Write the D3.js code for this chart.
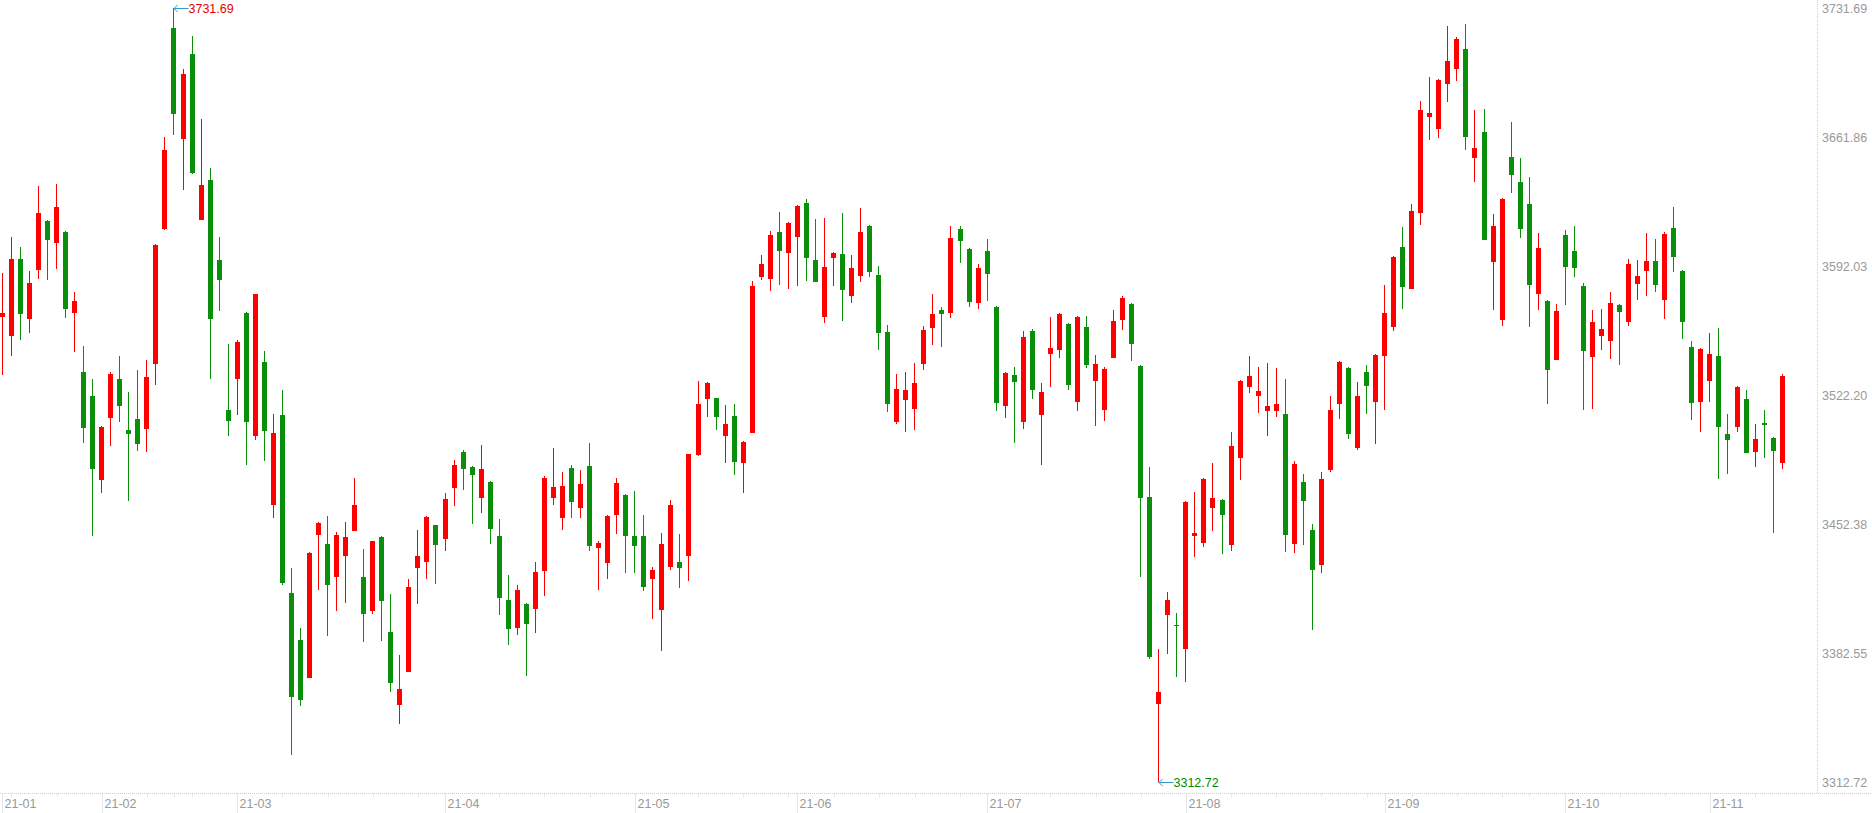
<!DOCTYPE html>
<html>
<head>
<meta charset="utf-8">
<script src="https://cdn.jsdelivr.net/npm/d3@7"></script>
<style>
  html, body { margin: 0; padding: 0; background: #fff; overflow: hidden; }
  svg { display: block; font-family: "Liberation Sans", Arial, sans-serif; }
</style>
</head>
<body>
<svg id="chart" width="1872" height="813"></svg>
<script>
// trading days shown, per month
const tradingDays = [
    ["2021-01", "15 18 19 20 21 22 25 26 27 28 29"],
    ["2021-02", "01 02 03 04 05 08 09 10 18 19 22 23 24 25 26"],
    ["2021-03", "01 02 03 04 05 08 09 10 11 12 15 16 17 18 19 22 23 24 25 26 29 30 31"],
    ["2021-04", "01 02 06 07 08 09 12 13 14 15 16 19 20 21 22 23 26 27 28 29 30"],
    ["2021-05", "06 07 10 11 12 13 14 17 18 19 20 21 24 25 26 27 28 31"],
    ["2021-06", "01 02 03 04 07 08 09 10 11 15 16 17 18 21 22 23 24 25 28 29 30"],
    ["2021-07", "01 02 05 06 07 08 09 12 13 14 15 16 19 20 21 22 23 26 27 28 29 30"],
    ["2021-08", "02 03 04 05 06 09 10 11 12 13 16 17 18 19 20 23 24 25 26 27 30 31"],
    ["2021-09", "01 02 03 06 07 08 09 10 13 14 15 16 17 22 23 24 27 28 29 30"],
    ["2021-10", "08 11 12 13 14 15 18 19 20 21 22 25 26 27 28 29"],
    ["2021-11", "01 02 03 04 05 08 09 10 11"]
];

const openPrices = [
    3564.5, 3554.2, 3595.7, 3563.4, 3589.9, 3616.2, 3604.4, 3610.2, 3566.5, 3534.4,
    3521.7, 3476.3, 3509.7, 3530.8, 3503.1, 3509.1, 3503.9, 3539.1, 3612.1, 3720.7,
    3660.8, 3706.6, 3616.9, 3638.4, 3595.1, 3514.0, 3530.9, 3566.5, 3499.7, 3540.0,
    3462.7, 3511.0, 3415.0, 3389.5, 3369.2, 3446.5, 3441.5, 3423.8, 3435.2, 3448.7,
    3423.6, 3405.2, 3445.3, 3393.9, 3354.6, 3372.4, 3428.7, 3431.9, 3451.7, 3444.4,
    3471.9, 3491.2, 3483.1, 3466.5, 3475.0, 3445.8, 3411.2, 3396.2, 3409.0, 3406.5,
    3427.0, 3466.5, 3455.7, 3482.6, 3461.1, 3483.7, 3439.5, 3431.4, 3457.3, 3468.0,
    3445.8, 3445.8, 3422.7, 3406.0, 3429.2, 3431.7, 3435.2, 3489.6, 3520.1, 3520.4,
    3500.1, 3510.7, 3485.5, 3501.7, 3586.1, 3584.8, 3610.2, 3599.1, 3607.5, 3625.9,
    3595.1, 3564.4, 3596.4, 3598.4, 3575.8, 3586.6, 3613.5, 3587.0, 3556.2, 3507.6,
    3519.6, 3514.7, 3539.0, 3558.5, 3568.1, 3566.6, 3611.9, 3601.1, 3572.0, 3600.0,
    3569.7, 3516.3, 3532.9, 3507.6, 3556.7, 3511.4, 3544.4, 3546.6, 3560.5, 3518.5,
    3558.9, 3529.8, 3514.1, 3542.3, 3562.8, 3571.3, 3537.8, 3466.9, 3355.1, 3403.3,
    3397.6, 3384.8, 3446.0, 3442.2, 3461.1, 3465.3, 3441.1, 3488.0, 3526.6, 3521.7,
    3513.6, 3513.6, 3511.8, 3441.6, 3475.0, 3449.0, 3430.0, 3481.7, 3517.4, 3536.7,
    3493.6, 3534.5, 3518.5, 3543.4, 3559.0, 3602.1, 3579.6, 3620.7, 3672.6, 3666.1,
    3690.5, 3698.6, 3709.2, 3650.5, 3664.3, 3594.2, 3562.5, 3650.8, 3637.3, 3625.4,
    3576.9, 3572.9, 3541.2, 3608.6, 3600.0, 3581.0, 3542.8, 3554.0, 3551.5, 3570.8,
    3561.8, 3582.3, 3589.3, 3594.6, 3573.6, 3612.4, 3589.2, 3548.0, 3518.5, 3529.8,
    3543.2, 3501.2, 3504.9, 3520.1, 3491.4, 3506.9, 3499.0, 3485.5
];

const highPrices = [
    3587.9, 3607.7, 3602.1, 3589.3, 3635.3, 3617.0, 3636.3, 3610.8, 3577.7, 3548.7,
    3530.9, 3505.5, 3534.4, 3543.1, 3523.6, 3535.6, 3541.0, 3603.6, 3661.6, 3731.69,
    3698.5, 3716.2, 3671.4, 3645.0, 3607.7, 3549.7, 3551.8, 3566.8, 3576.9, 3546.0,
    3512.0, 3525.0, 3428.5, 3396.0, 3436.9, 3453.5, 3456.6, 3448.0, 3453.4, 3477.2,
    3438.8, 3443.3, 3445.6, 3414.4, 3381.4, 3422.5, 3449.0, 3456.6, 3452.0, 3469.1,
    3486.9, 3492.3, 3483.4, 3495.0, 3475.3, 3455.0, 3424.7, 3419.3, 3409.3, 3431.7,
    3478.2, 3493.4, 3480.4, 3484.2, 3481.5, 3496.1, 3443.3, 3456.9, 3477.2, 3468.3,
    3470.1, 3457.2, 3429.0, 3447.4, 3465.3, 3446.9, 3490.4, 3529.6, 3528.9, 3520.7,
    3516.7, 3517.2, 3497.2, 3583.7, 3598.0, 3611.0, 3621.1, 3615.4, 3625.0, 3628.1,
    3617.3, 3617.8, 3599.4, 3620.5, 3597.8, 3623.2, 3613.8, 3591.9, 3559.9, 3533.4,
    3534.5, 3539.4, 3559.4, 3576.7, 3569.7, 3613.5, 3613.5, 3601.4, 3592.9, 3606.5,
    3570.0, 3534.3, 3537.2, 3556.7, 3557.8, 3528.6, 3564.3, 3566.4, 3560.8, 3564.8,
    3564.8, 3543.7, 3537.4, 3568.0, 3575.6, 3571.6, 3538.1, 3483.3, 3384.7, 3415.5,
    3404.1, 3464.5, 3469.8, 3476.9, 3485.3, 3465.6, 3502.1, 3530.1, 3543.2, 3537.2,
    3539.4, 3536.7, 3530.7, 3486.4, 3479.3, 3452.3, 3480.4, 3521.5, 3540.2, 3537.0,
    3529.1, 3538.3, 3544.0, 3581.6, 3597.0, 3612.9, 3625.4, 3681.1, 3694.1, 3692.8,
    3721.7, 3715.7, 3722.8, 3676.2, 3676.8, 3620.0, 3628.6, 3669.7, 3650.3, 3640.0,
    3609.7, 3573.2, 3571.3, 3611.3, 3613.5, 3582.7, 3568.1, 3568.6, 3577.8, 3571.1,
    3595.6, 3595.1, 3609.7, 3606.5, 3610.3, 3623.8, 3589.5, 3551.3, 3547.3, 3555.6,
    3558.3, 3512.0, 3527.1, 3524.9, 3506.6, 3514.1, 3499.3, 3533.6
];

const lowPrices = [
    3532.9, 3543.1, 3551.8, 3555.7, 3585.0, 3584.5, 3590.5, 3563.8, 3545.4, 3496.2,
    3446.0, 3469.1, 3494.6, 3507.4, 3464.9, 3491.9, 3491.3, 3527.7, 3611.5, 3662.9,
    3633.2, 3641.5, 3616.5, 3530.9, 3567.7, 3500.0, 3511.3, 3484.2, 3497.7, 3486.6,
    3455.7, 3419.5, 3327.5, 3354.0, 3368.8, 3416.6, 3391.7, 3405.4, 3409.7, 3448.3,
    3388.6, 3403.8, 3389.2, 3361.6, 3344.3, 3372.0, 3409.2, 3422.7, 3420.0, 3437.9,
    3462.2, 3470.9, 3452.5, 3458.4, 3441.7, 3403.2, 3387.0, 3392.4, 3370.0, 3393.5,
    3413.5, 3462.7, 3449.2, 3455.7, 3455.7, 3437.9, 3416.8, 3422.7, 3447.1, 3425.9,
    3425.9, 3416.2, 3401.1, 3383.8, 3427.6, 3417.8, 3421.6, 3489.1, 3510.4, 3503.3,
    3485.5, 3479.0, 3469.2, 3501.4, 3584.5, 3578.5, 3581.6, 3579.4, 3581.0, 3583.9,
    3583.1, 3561.2, 3581.0, 3562.3, 3572.0, 3583.4, 3586.1, 3546.6, 3513.1, 3506.6,
    3502.3, 3503.3, 3535.8, 3549.3, 3548.2, 3563.9, 3593.7, 3569.9, 3568.8, 3573.1,
    3513.6, 3509.8, 3496.3, 3503.9, 3520.1, 3484.4, 3526.6, 3542.3, 3525.0, 3513.6,
    3536.9, 3505.5, 3508.2, 3542.0, 3557.4, 3540.6, 3423.8, 3379.4, 3312.72, 3382.1,
    3369.7, 3367.0, 3434.6, 3440.0, 3448.7, 3436.2, 3437.9, 3476.1, 3523.3, 3512.3,
    3500.1, 3510.4, 3437.3, 3436.8, 3441.0, 3395.0, 3426.0, 3480.6, 3509.3, 3498.4,
    3492.5, 3512.0, 3495.7, 3514.1, 3556.9, 3568.8, 3579.3, 3614.2, 3660.2, 3661.3,
    3680.7, 3692.1, 3654.8, 3637.5, 3605.8, 3568.2, 3559.6, 3631.5, 3607.2, 3559.0,
    3568.2, 3517.4, 3540.9, 3570.9, 3586.1, 3514.1, 3514.7, 3546.6, 3541.7, 3538.5,
    3559.6, 3573.6, 3575.8, 3578.0, 3563.4, 3588.8, 3552.5, 3508.7, 3502.2, 3518.5,
    3476.8, 3479.5, 3502.2, 3490.6, 3483.3, 3488.2, 3447.6, 3482.3
];

const closePrices = [
    3566.4, 3595.7, 3565.7, 3582.7, 3620.6, 3605.9, 3623.7, 3568.6, 3572.9, 3504.3,
    3482.3, 3504.7, 3533.5, 3516.1, 3501.2, 3495.6, 3531.7, 3603.2, 3654.6, 3674.3,
    3695.8, 3641.9, 3635.7, 3563.4, 3584.5, 3508.2, 3550.7, 3507.6, 3576.7, 3502.8,
    3501.5, 3420.6, 3358.9, 3357.3, 3436.6, 3452.8, 3419.5, 3446.3, 3445.3, 3462.6,
    3403.8, 3443.1, 3410.8, 3366.4, 3363.0, 3418.2, 3435.0, 3456.1, 3441.1, 3465.8,
    3484.2, 3482.2, 3479.0, 3482.0, 3449.8, 3412.4, 3395.7, 3416.6, 3398.2, 3426.3,
    3477.2, 3472.3, 3472.9, 3464.4, 3473.9, 3440.6, 3442.0, 3456.6, 3474.5, 3446.0,
    3440.6, 3418.4, 3427.4, 3441.5, 3462.6, 3428.7, 3490.1, 3517.2, 3528.6, 3510.4,
    3506.4, 3486.0, 3496.6, 3581.0, 3592.9, 3608.5, 3600.0, 3615.1, 3624.3, 3596.4,
    3583.4, 3591.3, 3598.9, 3579.1, 3590.8, 3610.2, 3588.8, 3555.8, 3517.4, 3525.3,
    3524.8, 3528.6, 3557.2, 3565.9, 3566.1, 3607.0, 3605.6, 3572.6, 3590.8, 3587.7,
    3517.9, 3534.0, 3529.3, 3553.4, 3525.0, 3523.7, 3547.5, 3565.9, 3527.7, 3564.3,
    3538.5, 3538.8, 3536.1, 3562.1, 3574.5, 3549.8, 3466.5, 3380.5, 3361.4, 3411.2,
    3396.9, 3464.2, 3447.2, 3476.6, 3466.3, 3457.3, 3494.5, 3529.8, 3532.4, 3524.2,
    3516.1, 3517.2, 3446.5, 3484.7, 3464.9, 3427.3, 3476.6, 3513.9, 3539.9, 3501.2,
    3521.5, 3527.1, 3543.7, 3566.4, 3596.7, 3580.7, 3621.6, 3676.2, 3674.6, 3692.5,
    3702.8, 3714.7, 3661.8, 3655.7, 3606.1, 3613.5, 3628.1, 3641.3, 3612.0, 3581.8,
    3601.6, 3535.8, 3567.5, 3591.5, 3591.0, 3546.1, 3561.6, 3557.8, 3571.8, 3567.1,
    3592.9, 3586.4, 3594.6, 3581.8, 3609.2, 3596.9, 3561.8, 3517.9, 3547.0, 3544.2,
    3504.9, 3497.9, 3526.6, 3490.9, 3498.4, 3506.0, 3492.0, 3532.5
];

// price axis labels on the right
const priceTicks = [3312.72, 3382.55, 3452.38, 3522.20, 3592.03, 3661.86, 3731.69];

const klineChart = (function () {
    "use strict";

    const width = 1872;
    const plotRight = 1817.5;
    const axisY = 793.5;
    const upColor = "#ff0000";
    const downColor = "#0a8f0a";
    const gridColor = "#cfcfcf";
    const labelColor = "#999";

    let _svg;

    /**
     * Join the day labels with the four price arrays.
     * @returns {Array} one object per trading day
     */
    function buildCandles() {
        const dates = tradingDays.flatMap(([month, days]) =>
            days.split(" ").map((day) => `${month}-${day}`));
        return dates.map((date, i) => ({
            date: date,
            time: d3.utcParse("%Y-%m-%d")(date),
            open: openPrices[i],
            high: highPrices[i],
            low: lowPrices[i],
            close: closePrices[i]
        }));
    }

    /**
     * Draw the dotted axes with their month and price labels.
     */
    function drawAxes(candles, x, y) {
        const axes = _svg.append("g").attr("id", "axes");

        axes.append("line")
            .attr("x1", plotRight).attr("x2", plotRight)
            .attr("y1", 0).attr("y2", axisY)
            .attr("stroke", gridColor)
            .attr("stroke-dasharray", "1,1");

        axes.append("line")
            .attr("x1", 0).attr("x2", width)
            .attr("y1", axisY).attr("y2", axisY)
            .attr("stroke", gridColor)
            .attr("stroke-dasharray", "1,1");

        axes.selectAll("text.price")
            .data(priceTicks)
            .join("text")
            .attr("class", "price")
            .attr("x", plotRight + 4.5)
            .attr("y", (d) => y(d) + 1)
            .attr("dominant-baseline", "central")
            .attr("font-size", 12.5)
            .attr("fill", labelColor)
            .text((d) => d.toFixed(2));

        // month ticks where the month changes, week ticks on the first day of a week
        const monthStarts = [];
        const weekStarts = [];
        candles.forEach((c, i) => {
            if (i === 0) {
                monthStarts.push(i);
                return;
            }
            const prev = candles[i - 1];
            if (c.date.slice(0, 7) !== prev.date.slice(0, 7)) {
                monthStarts.push(i);
            } else if (+d3.utcMonday.floor(c.time) !== +d3.utcMonday.floor(prev.time)) {
                weekStarts.push(i);
            }
        });
        const minorTicks = weekStarts.filter((i) =>
            !monthStarts.some((m) => m > 0 && i - m > 0 && i - m <= 2));

        const cx = (i) => Math.round(x(candles[i].date) + x.bandwidth() / 2) + 0.5;

        axes.selectAll("line.minor")
            .data(minorTicks)
            .join("line")
            .attr("class", "minor")
            .attr("x1", cx).attr("x2", cx)
            .attr("y1", axisY).attr("y2", axisY + 4)
            .attr("stroke", gridColor)
            .attr("stroke-dasharray", "1,1");

        const months = axes.selectAll("g.month")
            .data(monthStarts)
            .join("g")
            .attr("class", "month")
            .attr("transform", (i) => `translate(${cx(i)},0)`);

        months.append("line")
            .attr("y1", axisY).attr("y2", 813)
            .attr("stroke", gridColor)
            .attr("stroke-dasharray", "1,1");

        months.append("text")
            .attr("x", 2)
            .attr("y", 804)
            .attr("dominant-baseline", "central")
            .attr("font-size", 12.5)
            .attr("fill", labelColor)
            .text((i) => d3.utcFormat("%y-%m")(candles[i].time));
    }

    /**
     * Draw one candle per day: a 1px wick and a 5px body.
     */
    function drawCandles(candles, x, y) {
        const colorOf = (d) => (d.close >= d.open ? upColor : downColor);
        const bodyLeft = (d) => Math.round(x(d.date) + x.bandwidth() / 2 - 2.5);

        const groups = _svg.append("g")
            .attr("id", "candles")
            .attr("shape-rendering", "crispEdges")
            .selectAll("g")
            .data(candles, (d) => d.date)
            .join("g");

        groups.append("line")
            .attr("x1", (d) => bodyLeft(d) + 2.5)
            .attr("x2", (d) => bodyLeft(d) + 2.5)
            .attr("y1", (d) => Math.round(y(d.high)))
            .attr("y2", (d) => Math.round(y(d.low)))
            .attr("stroke", colorOf)
            .attr("stroke-width", 1);

        groups.append("rect")
            .attr("x", bodyLeft)
            .attr("width", 5)
            .attr("y", (d) => Math.round(y(Math.max(d.open, d.close))))
            .attr("height", (d) => Math.max(1,
                Math.round(y(Math.min(d.open, d.close))) - Math.round(y(Math.max(d.open, d.close)))))
            .attr("fill", colorOf);
    }

    /**
     * Mark the highest high and lowest low with an arrow and the price.
     */
    function drawExtremes(candles, x, y) {
        const top = candles[d3.maxIndex(candles, (d) => d.high)];
        const bottom = candles[d3.minIndex(candles, (d) => d.low)];
        const marks = [
            {value: top.high, date: top.date, color: "#e60000"},
            {value: bottom.low, date: bottom.date, color: "#008a00"}
        ];

        const g = _svg.append("g")
            .attr("id", "extremes")
            .selectAll("g")
            .data(marks)
            .join("g")
            .attr("transform", (d) =>
                `translate(${Math.round(x(d.date) + x.bandwidth() / 2 - 2.5) + 2.5},${Math.round(y(d.value)) + 0.5})`);

        g.append("line")
            .attr("x1", 0).attr("x2", 15)
            .attr("stroke", "#3399cc");
        g.append("path")
            .attr("d", "M 4 -3.5 L 0.5 0 L 4 3.5")
            .attr("fill", "none")
            .attr("stroke", "#3399cc");
        g.append("text")
            .attr("x", 15)
            .attr("dominant-baseline", "central")
            .attr("font-size", 12.5)
            .attr("fill", (d) => d.color)
            .text((d) => d.value.toFixed(2));
    }

    function init(svgNode) {
        _svg = d3.select(svgNode);
        const candles = buildCandles();

        const x = d3.scaleBand()
            .domain(candles.map((d) => d.date))
            .range([-2.2, 1786.7]);
        const y = d3.scaleLinear()
            .domain([priceTicks[0], priceTicks[priceTicks.length - 1]])
            .range([782, 7.5]);

        drawAxes(candles, x, y);
        drawCandles(candles, x, y);
        drawExtremes(candles, x, y);
    }

    return {
        init: init
    };
})();

klineChart.init(document.getElementById("chart"));
</script>
</body>
</html>
